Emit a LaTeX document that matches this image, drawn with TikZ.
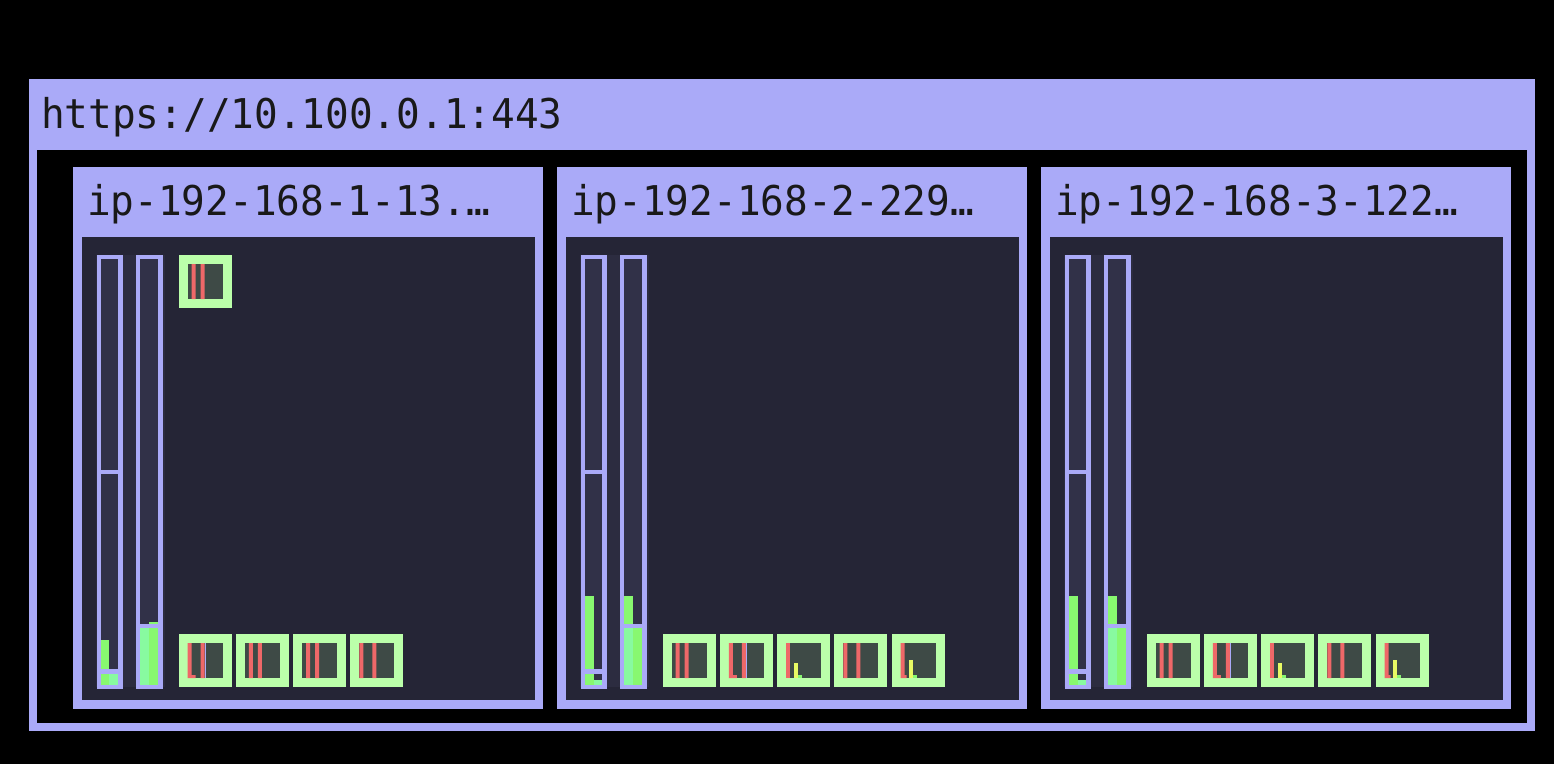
\documentclass[tikz,border=0pt]{standalone}
\usepackage{fontspec}
\newfontfamily\monofont[FakeStretch=0.96]{DejaVu Sans Mono}

\definecolor{lavender}{RGB}{170,170,248}
\definecolor{nodebg}{RGB}{37,37,54}
\definecolor{colbg}{RGB}{44,44,64}
\definecolor{barbg}{RGB}{49,49,72}
\definecolor{podgreen}{RGB}{187,255,170}
\definecolor{podbg}{RGB}{62,74,70}
\definecolor{usered}{RGB}{238,104,104}
\definecolor{usegreen}{RGB}{136,248,112}
\definecolor{usemint}{RGB}{136,250,160}
\definecolor{useyellow}{RGB}{232,250,100}

\tikzset{
  title/.style={anchor=base west, inner sep=0pt, text=black!90,
    font=\monofont\fontsize{41}{41}\selectfont},
}

% pod contents, inner box is 35x35
\newcommand\podrr{\fill[usered] (4,0) rectangle (8,35) (13,0) rectangle (17,35);}
\newcommand\podrn{\fill[usered] (0,0) rectangle (4,35) (13,0) rectangle (17,35);}
\newcommand\podlr{\fill[usered] (0,0) rectangle (4,35) (0,32) rectangle (8,35) (13,0) rectangle (17,35);
  \fill[lavender] (17,0) rectangle (18.5,35);}
\newcommand\podry{\fill[usered] (0,0) rectangle (4,35);
  \fill[useyellow] (8,20) rectangle (12,35); \fill[usegreen] (12,32) rectangle (16,35);}
\newcommand\podryt{\fill[usered] (0,0) rectangle (4,35) (0,32) rectangle (6,35);
  \fill[useyellow] (8,17) rectangle (12,35); \fill[usegreen] (12,32) rectangle (16,35);}

\newcommand\podbox[3]{%
  \begin{scope}[shift={(#1,#2)}]
    \fill[podgreen] (0,0) rectangle (53,53);
    \fill[podbg] (9,9) rectangle (44,44);
    \begin{scope}[shift={(9,9)}]
      \csname pod#3\endcsname
    \end{scope}
  \end{scope}}

\begin{document}
\begin{tikzpicture}[x=1pt,y=-1pt]
  \useasboundingbox (0,0) rectangle (1554,764);
  \fill[black] (0,0) rectangle (1554,764);
  % cluster frame
  \fill[lavender] (29,79) rectangle (1535,731);
  \fill[black] (37,150) rectangle (1527,723);
  \node[title] (api) at (41,128) {https://10.100.0.1:443};

  % host frames with their two bars
  \foreach \L/\h/\t in {73/host1/ip-192-168-1-13.…, 557/host2/ip-192-168-2-229…, 1041/host3/ip-192-168-3-122…}{
    \fill[lavender] (\L,167) rectangle ({\L+470},709);
    \fill[nodebg] ({\L+9},237) rectangle ({\L+462},700);
    \node[title] (\h) at ({\L+14},215) {\t};
    \fill[colbg] ({\L+23},255) rectangle ({\L+92},687);
    \fill[lavender] ({\L+24},255) rectangle ({\L+50},689);
    \fill[barbg] ({\L+28},259) rectangle ({\L+45},685);
    \fill[lavender] ({\L+63},255) rectangle ({\L+90},689);
    \fill[barbg] ({\L+67},259) rectangle ({\L+85},685);
  }

  % bar levels, host 1
  \fill[usegreen] (101,640) rectangle (109,669);
  \fill[usegreen] (101,674) rectangle (109,685);
  \fill[usemint] (109,674) rectangle (118,685);
  \fill[usegreen] (149,621.5) rectangle (158,624);
  \fill[usemint] (140,628) rectangle (149,685);
  \fill[usegreen] (149,628) rectangle (158,685);
  % bar levels, hosts 2 and 3
  \foreach \L in {557,1041}{
    \fill[usegreen] ({\L+28},596) rectangle ({\L+37},669);
    \fill[usegreen] ({\L+28},674) rectangle ({\L+37},685);
    \fill[usemint] ({\L+37},680) rectangle ({\L+45},685);
    \fill[usegreen] ({\L+67},596) rectangle ({\L+76},624);
    \fill[usemint] ({\L+67},628) rectangle ({\L+76},685);
    \fill[usegreen] ({\L+76},628) rectangle ({\L+85},685);
  }
  % bar dividers
  \foreach \L in {73,557,1041}{
    \fill[lavender] ({\L+28},470) rectangle ({\L+45},474);
    \fill[lavender] ({\L+28},669) rectangle ({\L+45},674);
    \fill[lavender] ({\L+67},624) rectangle ({\L+85},628);
  }

  % pods
  \podbox{178.5}{255}{rr}
  \foreach \i/\k in {0/lr,1/rr,2/rr,3/rn}{
    \podbox{178.5+57.25*\i}{634}{\k}
  }
  \foreach \L in {557,1041}{
    \foreach \i/\k in {0/rr,1/lr,2/ry,3/rn,4/ryt}{
      \podbox{\L+105.5+57.25*\i}{634}{\k}
    }
  }
\end{tikzpicture}
\end{document}
